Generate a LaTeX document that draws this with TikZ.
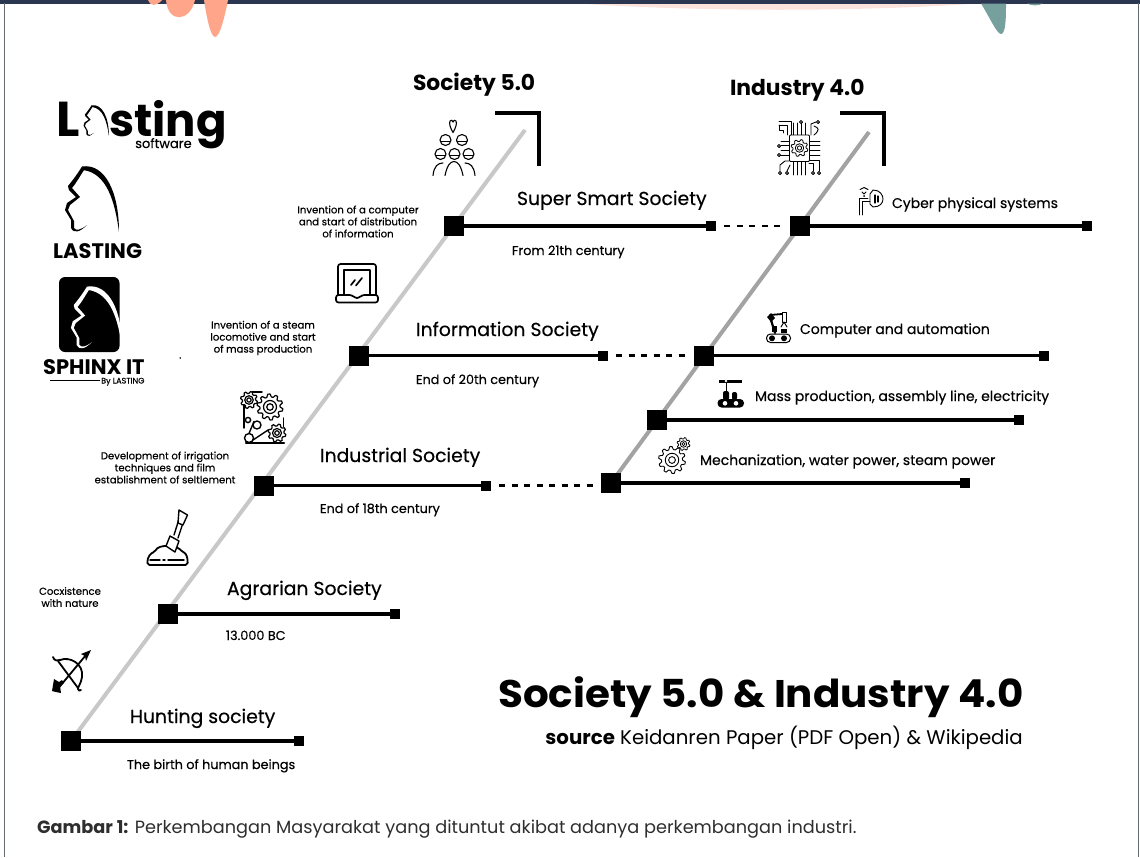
\documentclass[tikz,border=0pt]{standalone}
\usepackage{fontspec}
\setmainfont{Poppins}
\newfontfamily\popmed[FakeBold=0.4]{Poppins}
\newfontfamily\titlefont[FakeStretch=1.05]{Poppins}
\definecolor{navy}{HTML}{2B3650}
\definecolor{salmon}{HTML}{FFA58A}
\definecolor{palepink}{HTML}{FBE3DC}
\definecolor{tealc}{HTML}{76A09D}
\definecolor{spineA}{HTML}{C8C8C8}
\definecolor{spineB}{HTML}{A3A3A3}
\definecolor{capgray}{HTML}{2E2E2E}
\tikzset{
  bigsq/.style={fill=black,draw=none,minimum size=20pt,inner sep=0pt,outer sep=0pt},
  smallsq/.style={fill=black,draw=none,minimum size=10pt,inner sep=0pt,outer sep=0pt},
  stem/.style={line width=3.6pt,black},
  link/.style={line width=2.6pt,black,dash pattern=on 6pt off 6.5pt,shorten <=8pt,shorten >=4pt},
  spinea/.style={line width=4pt,spineA},
  spineb/.style={line width=4pt,spineB},
  corner/.style={line width=4pt,black,miter limit=10},
  lbl/.style={anchor=base west,inner sep=0pt,outer sep=0pt,text=black},
  stage/.style={lbl,font=\fontsize{18.8}{22}\popmed},
  date/.style={lbl,font=\fontsize{12.8}{15}\popmed},
  feat/.style={lbl,font=\fontsize{14}{16}\popmed},
  note/.style={anchor=center,align=center,inner sep=0pt,outer sep=0pt,font=\fontsize{10.1}{12}\popmed},
  head/.style={anchor=base west,inner sep=0pt,outer sep=0pt,font=\fontsize{21.8}{28}\selectfont\bfseries},
  ico/.style={line width=1.1pt,black,line join=round,line cap=round},
}
% gear: x, y, radius, teeth, line width
\newcommand\gearicon[5]{%
  \pgfmathsetmacro\gs{360/#4}%
  \pgfmathsetmacro\gri{#3*0.78}%
  \draw[line width=#5,black,line join=round,fill=white,shift={(#1,#2)}]
    (0:\gri) \foreach \i in {1,...,#4}{
      -- ({(\i-1)*\gs+0.22*\gs}:#3) -- ({(\i-1)*\gs+0.5*\gs}:#3) -- ({(\i-1)*\gs+0.72*\gs}:\gri) -- ({\i*\gs}:\gri)
    } -- cycle;
  \draw[line width=#5,black] (#1,#2) circle[radius=#3*0.5];
  \draw[line width=#5,black] (#1,#2) circle[radius=#3*0.25];
}
% head silhouette: x, y of the crown, scale, colour
\newcommand\headicon[4]{%
  \begin{scope}[shift={(#1,#2)},scale=#3]
    \fill[#4] (-1,-1.5) .. controls (22,-5) and (36,24) .. (36,64)
      .. controls (32,34) and (24,5) .. (0,2) -- cycle;
    \fill[#4] (-1,-1.5) .. controls (-5,5) and (-10,12) .. (-15,18) -- (-14,22) -- (-7,29)
      -- (-16,35) -- (-18,42) -- (-12,52) -- (-12,60)
      .. controls (-9,66) and (-3,64) .. (4,57)
      .. controls (-2,62) and (-7,63) .. (-9,60) -- (-9,53) -- (-15,42) -- (-13,37)
      -- (-3,29) -- (-11,20) .. controls (-6,14) and (-3,8) .. (1,2) -- cycle;
  \end{scope}}
\begin{document}
\begin{tikzpicture}[x=1pt,y=-1pt]
\useasboundingbox (0,0) rectangle (1140,857);
\fill[white] (0,0) rectangle (1140,857);
% page frame
\fill[palepink] (570,3) .. controls (700,12) and (860,12) .. (985,3) -- cycle;
\fill[navy] (0,0) rectangle (1140,3.5);
\fill[gray!70!navy] (3.5,3) rectangle (5,857);
\fill[gray!70!navy] (1137.5,3) rectangle (1139,857);
\fill[salmon] (148,0) .. controls (150,6) and (156,7) .. (162,0) -- cycle;
\fill[salmon] (166,0) .. controls (168,24) and (190,22) .. (195,0) -- cycle;
\fill[salmon] (204,0) .. controls (207,20) and (211,37) .. (215,37) .. controls (220,37) and (225,15) .. (228,0) -- cycle;
\fill[tealc] (981,3.5) .. controls (990,18) and (997,34) .. (1001,34) .. controls (1006,34) and (1006,15) .. (1006,3.5) -- cycle;
\fill[tealc] (1027,3.5) .. controls (1032,6) and (1038,6) .. (1043,3.5) -- cycle;

\coordinate (stop) at (525,130);
\coordinate (itop) at (869,132);
\coordinate (hc) at (71,741);
\coordinate (mc) at (611,483);
% spines
\draw[spinea] (hc) -- (stop);
\draw[spineb] (mc) -- (itop);

% society squares
\node[bigsq] (h1) at (hc) {};
\node[bigsq] (a1) at (167.5,614) {};
\node[bigsq] (i1) at (263.5,485.5) {};
\node[bigsq] (n1) at (358.5,355.5) {};
\node[bigsq] (s1) at (453.5,226) {};
\node[smallsq] (h2) at (298.5,741) {};
\node[smallsq] (a2) at (395,614) {};
\node[smallsq] (i2) at (486,485.5) {};
\node[smallsq] (n2) at (603,355.5) {};
\node[smallsq] (s2) at (711,226) {};
% industry squares
\node[bigsq] (m1) at (mc) {};
\node[bigsq] (p1) at (657,420) {};
\node[bigsq] (c1) at (704,355.5) {};
\node[bigsq] (y1) at (799.5,226) {};
\node[smallsq] (m2) at (964.5,483) {};
\node[smallsq] (p2) at (1019,420) {};
\node[smallsq] (c2) at (1044,355.5) {};
\node[smallsq] (y2) at (1087,226) {};

\draw[stem] (h1) -- (h2);
\draw[stem] (a1) -- (a2);
\draw[stem] (i1) -- (i2);
\draw[stem] (n1) -- (n2);
\draw[stem] (s1) -- (s2);
\draw[stem] (m1) -- (m2);
\draw[stem] (p1) -- (p2);
\draw[stem] (c1) -- (c2);
\draw[stem] (y1) -- (y2);
\draw[link] (s2.east) -- (y1.west);
\draw[link] (n2.east) -- (c1.west);
\draw[link] (i2.east) -- (i2.east -| m1.west);

% corners
\draw[corner] (495,112.5) -- (539,112.5) -- (539,166);
\draw[corner] (840,112.5) -- (884,112.5) -- (884,166);

% heads
\node[head] (tS) at (413,90.5) {Society 5.0};
\node[head] (tI) at (730,95.5) {Industry 4.0};

% stage labels
\node[stage] (l1) at (517,205) {Super Smart Society};
\node[date]  (d1) at (512,255) {From 21th century};
\node[stage] (l2) at (416,336) {Information Society};
\node[date]  (d2) at (416,384) {End of 20th century};
\node[stage] (l3) at (320,462) {Industrial Society};
\node[date]  (d3) at (320,513) {End of 18th century};
\node[stage] (l4) at (227,595) {Agrarian Society};
\node[date]  (d4) at (226,640) {13.000 BC};
\node[stage] (l5) at (130,723) {Hunting society};
\node[date]  (d5) at (127,769) {The birth of human beings};

% notes
\node[note] (n_a) at (358,221.5) {Invention of a computer\\and start of distribution\\of information};
\node[note] (n_b) at (263,338) {Invention of a steam\\locomotive and start\\of mass production};
\node[note] (n_c) at (165,467.5) {Development of irrigation\\techniques and film\\establishment of seltlement};
\node[note] (n_d) at (70,597) {Cocxistence\\with nature};

% features
\node[feat] (f1) at (892,208) {Cyber physical systems};
\node[feat] (f2) at (800,334) {Computer and automation};
\node[feat] (f3) at (755,401) {Mass production, assembly line, electricity};
\node[feat] (f4) at (700,465) {Mechanization, water power, steam power};

% title
\node[anchor=base west,inner sep=0pt] (title) at (498,707) {\fontsize{38.5}{44}\titlefont\bfseries Society 5.0 \& Industry 4.0};
\node[anchor=base east,inner sep=0pt] (src) at (1023,744) {\fontsize{19.75}{22}\selectfont{\bfseries source} Keidanren Paper (PDF Open) \& Wikipedia};
\node[anchor=base west,inner sep=0pt,text=capgray] (cap) at (37,833) {\fontsize{17.7}{20}\selectfont{\bfseries Gambar 1:} Perkembangan Masyarakat yang dituntut akibat adanya perkembangan industri.};

% logos
\node[anchor=base west,inner sep=0pt] (lgL) at (56,136) {\fontsize{49}{50}\selectfont\bfseries L};
\headicon{92}{106}{0.47}{black}
\node[anchor=base west,inner sep=0pt] (lgS) at (109,136) {\fontsize{45}{50}\selectfont\bfseries sting};
\node[anchor=base west,inner sep=0pt] (lgT) at (135,148) {\fontsize{13}{14}\popmed software};
\headicon{83}{168}{1}{black}
\node[anchor=base west,inner sep=0pt] (lgN) at (53,258) {\fontsize{21}{24}\selectfont\bfseries LASTING};
\fill[black,rounded corners=6pt] (59,277) rectangle (119.5,352);
\headicon{88}{288}{0.95}{white}
\node[anchor=base west,inner sep=0pt] (lgX) at (43,374) {\fontsize{21}{24}\selectfont\bfseries SPHINX IT};
\draw[line width=0.8pt] (50,380.5) -- (99.5,380.5);
\node[anchor=base west,inner sep=0pt] (lgB) at (101,383.5) {\fontsize{8}{9}\popmed By LASTING};
\fill[black] (180.3,358) circle[radius=0.9];

% people icon
\begin{scope}[ico]
\draw (453,132.5) .. controls (450,127) and (449,124) .. (450,121) .. controls (451,119.5) and (452.5,120) .. (453,122) .. controls (453.5,120) and (455,119.5) .. (456,121) .. controls (457,124) and (456,127) .. (453,132.5) -- cycle;
\foreach \cx/\cy in {445.5/140,462/140,440.5/154,454.5/154,468.5/154}{
  \draw (\cx,\cy) circle[radius=5.5];
  \draw (\cx-5,\cy+1.5) -- (\cx+5,\cy+1.5);
}
\draw (433,175.5) .. controls (434,166) and (438,163) .. (443,163);
\draw (445,175.5) .. controls (447,166) and (450,161.5) .. (454,161.5) .. controls (458,161.5) and (461,166) .. (463,175.5);
\draw (465,163) .. controls (470,163) and (474,166) .. (475,175.5);
\end{scope}

% laptop icon
\begin{scope}[line width=1.7pt,black,line join=round,line cap=round]
\draw[rounded corners=2.5pt] (338,295) -- (338,264) -- (376,264) -- (376,295);
\draw (344,294) -- (344,270) -- (370,270) -- (370,294);
\draw[rounded corners=2.5pt] (336,295) -- (336,302.5) -- (378,302.5) -- (378,295) -- (362,295) -- (359,298) -- (355,298) -- (352,295) -- cycle;
\draw (351,285) -- (355,280);
\draw (356,285.5) -- (362,278);
\end{scope}

% factory gears icon
\begin{scope}[ico,line width=1.4pt]
\draw (244,405) -- (244,428);
\draw (252,392) -- (262,392);
\draw (283.5,418) -- (283.5,427);
\draw (248,420) circle[radius=2.6];
\draw (257,425) circle[radius=4];
\draw (249,438) circle[radius=4.5];
\draw (249,433.5) -- (254,421.5);
\draw (253,440) -- (268,430);
\draw[line width=2.2pt] (246,443) -- (284,443);
\end{scope}
\gearicon{249}{400}{8.5}{8}{1.2pt}
\gearicon{270}{407}{13}{10}{1.2pt}
\gearicon{277}{433}{9}{8}{1.2pt}

% shovel icon
\begin{scope}[ico,line width=1.4pt]
\draw[line width=1.8pt,rounded corners=2pt] (147.5,565) .. controls (147,557) and (151,553) .. (155,552) .. controls (157,547) and (163,546) .. (167,546) .. controls (176,546) and (180,549) .. (182,552) .. controls (186,553) and (188,558) .. (187.5,565) -- cycle;
\draw (150,560) -- (160,560) (163,560) -- (165,560) (168,560) -- (184,560);
\draw[fill=white] (166,546) -- (170,536) -- (179,541) -- (175,552) -- cycle;
\draw (174,535) -- (180,516) (178,538) -- (184,520);
\draw[fill=white] (179,510) -- (187.5,515) -- (183,525) -- (178,523) -- cycle;
\end{scope}

% bow icon
\begin{scope}[ico,line width=1.8pt]
\draw (53,657) .. controls (54,661) and (58,661) .. (60,660) .. controls (70,656) and (84,664) .. (82,677) .. controls (81,684) and (78,686) .. (78,689) .. controls (78,691) and (80,691) .. (81,690);
\draw (58,661) -- (78,688);
\draw (56,691) -- (86,655);
\fill[black] (91,650) -- (81,654) -- (85,656) -- (86,661) -- cycle;
\fill[black] (52,691) -- (54,679) -- (59,682) -- (62,680) -- (64,683) -- (60,686) -- (61,693) -- (56,692) -- cycle;
\end{scope}

% chip icon
\begin{scope}[ico,line width=0.9pt]
\foreach \yy in {141,145,150,155}{
  \draw (781,\yy) -- (789,\yy);
  \draw (809,\yy) -- (820,\yy);
}
\foreach \xx in {793,797,801,805}{
  \draw (\xx,123) -- (\xx,135);
  \draw (\xx,162) -- (\xx,175);
}
\draw (779,146) circle[radius=1.6] (779,155) circle[radius=1.6];
\draw (779,121) -- (791,121) -- (791,135) (779,125) -- (787,125) -- (787,135) (779,125) -- (779,130) -- (783,130) -- (783,133);
\draw (818,122) circle[radius=1.6] (801,122) circle[radius=1.6];
\draw (811,135) -- (811,124) -- (816,122) (814,135) .. controls (820,130) and (819,128) .. (814,126);
\draw (780,173) circle[radius=1.6] (780,171) -- (780,165) -- (785,161) -- (789,161);
\draw (819,173) circle[radius=1.6] (813,173) circle[radius=1.6];
\draw (819,171) -- (819,160) -- (809,160) (813,171) -- (813,163) -- (809,163);
\draw (787,173) circle[radius=1.6] (787,171) -- (790,165);
\draw[fill=white,rounded corners=1pt] (789.5,135) rectangle (809.5,161.5);
\end{scope}
\gearicon{799.5}{148}{8.5}{8}{0.8pt}

% cyber icon
\begin{scope}[ico,line width=0.9pt]
\draw (859,215) -- (859,198) -- (868,198) (862,215) -- (862,201) -- (870,201);
\draw (870,194) -- (873,190) .. controls (880,190) and (883,195) .. (883,199) .. controls (883,203) and (880,207) .. (873,207) -- (870,204) -- cycle;
\draw[line width=1.3pt] (875,195) -- (875,203) (878,196) -- (878,202);
\draw (862,192) -- (864,194) -- (866,192);
\draw (860,189.5) -- (864,187.5) -- (868,189.5);
\fill (864,196) circle[radius=1];
\end{scope}

% robot icon
\begin{scope}[ico,line width=1pt]
\draw (782,312) rectangle (786,322);
\draw (784,322) -- (781,327) (784,322) -- (787,327);
\draw[line width=1.8pt] (770,315) -- (782,314);
\fill[black] (767,317) -- (771,313) -- (775,318) -- (771,322) -- cycle;
\draw[line width=2.2pt] (771,320) -- (775,333);
\fill[black] (772,326) rectangle (777,332);
\fill[black] (781,329) rectangle (787,333);
\draw[rounded corners=4pt] (766.5,334) rectangle (790.5,342.5);
\fill[black] (772,338.3) circle[radius=3];
\fill[black] (784,338.3) circle[radius=3];
\end{scope}

% mass production icon
\fill[black] (719,379.5) rectangle (742,382.5);
\draw[line width=1pt] (726,382) -- (726,391);
\fill[black,rounded corners=2pt] (723,391) rectangle (729,400);
\fill[black,rounded corners=2pt] (732,392) rectangle (737,400);
\fill[black,rounded corners=4pt] (717.5,399) rectangle (744,407.5);
\fill[white] (725,403.3) circle[radius=2.3] (736,403.3) circle[radius=2.3];
\fill[white] (726,381) circle[radius=1.3];

% mechanisation gears
\gearicon{672}{460}{13.5}{10}{0.9pt}
\gearicon{683.5}{444}{6.5}{8}{0.8pt}
\end{tikzpicture}
\end{document}
